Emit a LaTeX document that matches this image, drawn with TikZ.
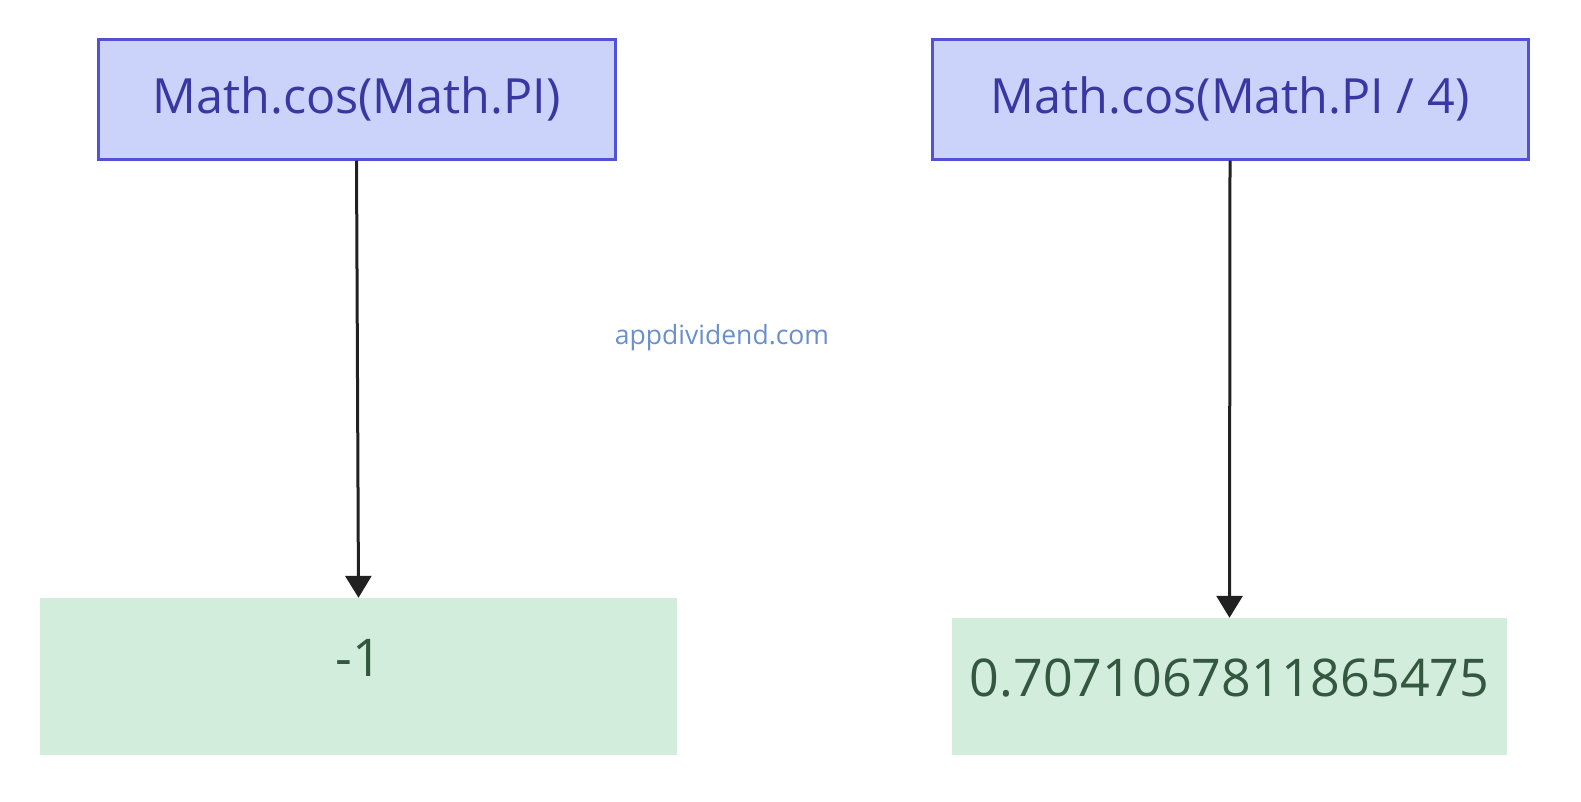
\documentclass[tikz,border=0pt]{standalone}
\usepackage{fontspec}
\setmainfont{Open Sans}
\usetikzlibrary{arrows.meta}
\definecolor{callfill}{HTML}{CBD3FB}
\definecolor{calldraw}{HTML}{5252D6}
\definecolor{calltext}{HTML}{3A37A3}
\definecolor{resfill}{HTML}{D2EDDB}
\definecolor{restext}{HTML}{33583F}
\definecolor{marktext}{HTML}{6A8FCC}
\begin{document}
\begin{tikzpicture}[x=1pt,y=-1pt,
        call/.style={rectangle, draw=calldraw, fill=callfill, line width=3pt, text=calltext, font=\fontsize{48.5}{52}\selectfont, inner sep=0pt},
        result/.style={rectangle, fill=resfill, text=restext, font=\fontsize{52}{56}\selectfont, inner sep=0pt},
        flow/.style={-{Triangle[width=26pt,length=22pt]}, line width=3pt, draw=black!87}]
        \useasboundingbox (0,0) rectangle (1581,801);

        \node at (356.5, 99) [call, minimum width=517pt, minimum height=120pt] (cospi) {Math.cos(Math.PI)};
        \node at (1230, 99) [call, minimum width=596pt, minimum height=120pt] (cospi4) {Math.cos(Math.PI / 4)};

        \node at (358.5, 676.5) [result, minimum width=637pt, minimum height=157pt, text height=20pt, text depth=20pt] (cospi_res) {-1};
        \node at (1229.5, 686.5) [result, minimum width=555pt, minimum height=137pt, text height=50pt, text depth=30pt] (cospi4_res) {0.7071067811865475};

        \node at (722, 338) [text=marktext, font=\fontsize{26.5}{30}\selectfont] (site) {appdividend.com};

        \draw   (cospi.south)     edge[flow]     (cospi_res.north)
                (cospi4.south)    edge[flow]     (cospi4_res.north)
            ;

    \end{tikzpicture}
\end{document}
